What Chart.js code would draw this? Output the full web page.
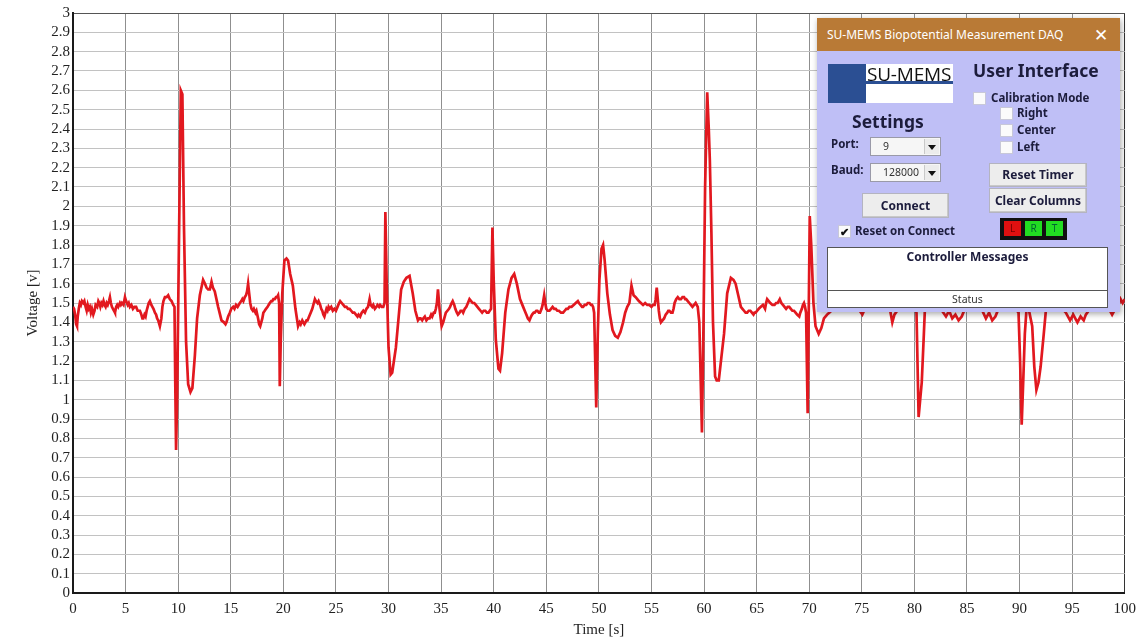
<!DOCTYPE html>
<html>
<head>
<meta charset="utf-8">
<title>SU-MEMS Biopotential Measurement</title>
<script src="https://cdn.jsdelivr.net/npm/chart.js@4"></script>
<style>
  html, body { margin: 0; padding: 0; background: #fff; }
  #wrap { position: relative; width: 1143px; height: 641px; overflow: hidden; background: #fff; }
  #plot { position: absolute; left: 0; top: 0; }

  /* acquisition control window */
  .daq { position: absolute; left: 817px; top: 18px; width: 303px; height: 294px;
         background: #bfbff6; box-shadow: 1px 2px 6px rgba(0,0,0,0.35);
         font-family: "Noto Sans", "Open Sans", sans-serif; color: #1c1c3c; }
  .daq .bar { position: absolute; left: 0; top: 0; width: 303px; height: 33px; background: #b97a36;
              color: #fff; font-size: 12px; line-height: 33px; }
  .daq .bar .ttl { position: absolute; left: 10px; top: 0; white-space: nowrap; }
  .daq .bar .x { position: absolute; left: 277px; top: 0; font-size: 17px; }
  .abs { position: absolute; white-space: nowrap; }
  .logo-blue { left: 11px; top: 46px; width: 38px; height: 39px; background: #2b4f93; }
  .logo-white { left: 49px; top: 46px; width: 87px; height: 39px; background: #fff; }
  .logo-white .txt { position: absolute; left: 1px; top: -3px; font-size: 19px; color: #111;
                     font-family: "Open Sans", sans-serif; letter-spacing: -0.2px; }
  .logo-white .rule { position: absolute; left: 0; top: 17px; width: 87px; height: 3px; background: #2b4f93; }
  .h { font-size: 17.5px; font-weight: bold; color: #1c1c3c; }
  .lbl { font-size: 11.5px; font-weight: bold; color: #1c1c3c; line-height: 14px; }
  .chk { width: 11px; height: 11px; background: #fbfbfb; border: 1px solid #c8c8d8; }
  .combo { background: #f6f6f6; border: 1px solid #9a9aa8; font-size: 10.5px; color: #333;
           font-family: "Noto Sans", sans-serif; }
  .combo .arr { position: absolute; right: 1px; top: 1px; width: 14px; bottom: 1px; background: #ececec;
                border-left: 1px solid #c9c9c9; }
  .combo .arr:after { content: ""; position: absolute; left: 3px; top: 6px; border-left: 4px solid transparent;
                      border-right: 4px solid transparent; border-top: 5px solid #111; }
  .btn { background: #ededed; border: 1px solid #b4b4c0; box-shadow: inset -1px -1px 0 #c9c9c9;
         font-size: 12px; font-weight: bold; color: #1c1c3c; text-align: center; }
  .lrt { left: 183px; top: 200px; width: 67px; height: 22px; background: #111; }
  .lrt div { position: absolute; top: 3px; width: 17px; height: 15px; font-size: 10px; text-align: center;
             line-height: 15px; font-family: "Noto Sans", sans-serif; }
  .box { background: #fff; border: 1px solid #555; }
</style>
</head>
<body>
<div id="wrap">
  <canvas id="plot" width="1143" height="641"></canvas>

  <div class="daq">
    <div class="bar"><span class="ttl">SU-MEMS Biopotential Measurement DAQ</span><span class="x">✕</span></div>

    <div class="abs logo-blue"></div>
    <div class="abs logo-white"><span class="txt">SU-MEMS</span><div class="rule"></div></div>

    <div class="abs h" style="left:156px; top:40px;">User Interface</div>
    <div class="abs chk" style="left:156px; top:74px;"></div>
    <div class="abs lbl" style="left:174px; top:73px;">Calibration Mode</div>
    <div class="abs chk" style="left:183px; top:89px;"></div>
    <div class="abs lbl" style="left:200px; top:88px;">Right</div>
    <div class="abs chk" style="left:183px; top:106px;"></div>
    <div class="abs lbl" style="left:200px; top:105px;">Center</div>
    <div class="abs chk" style="left:183px; top:123px;"></div>
    <div class="abs lbl" style="left:200px; top:122px;">Left</div>

    <div class="abs h" style="left:35px; top:91px;">Settings</div>
    <div class="abs lbl" style="left:14px; top:119px;">Port:</div>
    <div class="abs combo" style="left:53px; top:119px; width:69px; height:17px;">
      <span class="abs" style="left:12px; top:1px;">9</span><div class="arr"></div></div>
    <div class="abs lbl" style="left:14px; top:145px;">Baud:</div>
    <div class="abs combo" style="left:53px; top:145px; width:69px; height:17px;">
      <span class="abs" style="left:12px; top:1px;">128000</span><div class="arr"></div></div>
    <div class="abs btn" style="left:45px; top:175px; width:85px; height:23px; line-height:23px;">Connect</div>
    <div class="abs chk" style="left:21px; top:207px; font-size:11px; line-height:11px; text-align:center; color:#111; font-weight:bold;">✔</div>
    <div class="abs lbl" style="left:38px; top:206px;">Reset on Connect</div>

    <div class="abs btn" style="left:172px; top:145px; width:96px; height:22px; line-height:22px;">Reset Timer</div>
    <div class="abs btn" style="left:172px; top:170px; width:96px; height:23px; line-height:23px;">Clear Columns</div>
    <div class="abs lrt">
      <div style="left:4px; background:#e01010; color:#700;">L</div>
      <div style="left:25px; background:#22dd22; color:#063;">R</div>
      <div style="left:46px; background:#22dd22; color:#063;">T</div>
    </div>

    <div class="abs box" style="left:10px; top:229px; width:279px; height:42px;">
      <div class="abs lbl" style="left:0; width:279px; top:2px; text-align:center; font-size:12px;">Controller Messages</div>
    </div>
    <div class="abs box" style="left:10px; top:272px; width:279px; height:16px;">
      <div class="abs" style="left:0; width:279px; top:1px; text-align:center; font-size:10.5px; color:#333;">Status</div>
    </div>
  </div>
</div>

<script>
// Biopotential recording: sample times [s] and measured voltage [V], line for line
const timeSec = [
  0, 0.1, 0.2, 0.3, 0.38, 0.45, 0.55, 0.65, 0.75, 0.85,
  0.98, 1.08, 1.2, 1.3, 1.4, 1.5, 1.6, 1.7, 1.8, 1.93,
  2.05, 2.15, 2.3, 2.41, 2.5, 2.6, 2.7, 2.8, 2.9, 3.0,
  3.1, 3.2, 3.3, 3.42, 3.51, 3.6, 3.7, 3.8, 3.9, 3.99,
  4.1, 4.2, 4.3, 4.46, 4.55, 4.65, 4.8, 4.94, 5.05, 5.2,
  5.3, 5.41, 5.55, 5.7, 5.85, 6.0, 6.15, 6.36, 6.5, 6.6,
  6.68, 6.8, 6.9, 7.0, 7.1, 7.2, 7.31, 7.45, 7.55, 7.65,
  7.79, 7.9, 8.0, 8.1, 8.26, 8.4, 8.5, 8.6, 8.74, 8.9,
  9.05, 9.2, 9.37, 9.53, 9.65,
  9.72, 9.8, 9.9, 10.05, 10.25, 10.4, 10.55, 10.75, 10.95, 11.17, 11.35, 11.59,
  11.8, 12.06, 12.37, 12.55, 12.69, 12.85, 13.01, 13.17, 13.3, 13.48, 13.8, 14.12,
  14.35, 14.5, 14.59, 14.75, 14.91, 15.05, 15.23, 15.35, 15.5, 15.65,
  15.86, 16.0, 16.1, 16.2, 16.33, 16.45, 16.55, 16.65, 16.75, 16.85,
  16.97, 17.1, 17.2, 17.35, 17.44, 17.6, 17.7, 17.8, 17.9, 18.0,
  18.1, 18.23, 18.35, 18.5, 18.6, 18.71, 18.85, 18.95, 19.05, 19.18,
  19.3, 19.4, 19.5, 19.6,
  19.66, 19.75, 19.9, 20.1, 20.3, 20.45, 20.65, 20.9, 21.15,
  21.4, 21.55, 21.65, 21.8, 21.9, 22.0, 22.1, 22.2, 22.3, 22.45,
  22.6, 22.75, 22.9, 23.0, 23.1, 23.25, 23.35, 23.5, 23.6, 23.7,
  23.8, 23.9, 24.0, 24.1, 24.2, 24.3, 24.4, 24.55, 24.7, 24.85,
  25.0, 25.15, 25.3, 25.4, 25.55, 25.7, 25.85, 26.0, 26.15, 26.3,
  26.45, 26.6, 26.75, 26.9, 27.05, 27.15, 27.3, 27.45, 27.6, 27.75,
  27.9, 28.05, 28.2, 28.3, 28.45, 28.55, 28.7, 28.85, 28.95, 29.1,
  29.2, 29.35, 29.5, 29.62,
  29.7, 29.82, 30.0, 30.2, 30.35, 30.7, 31.0, 31.2, 31.45, 31.7, 32.0, 32.3, 32.55,
  32.8, 32.95, 33.05, 33.2, 33.3, 33.45, 33.6, 33.75, 33.9, 34.05,
  34.15, 34.3, 34.4, 34.5, 34.6, 34.7, 34.85, 35.05, 35.2, 35.3,
  35.45, 35.6, 35.75, 35.85, 36.0, 36.1, 36.25, 36.35, 36.5, 36.6,
  36.75, 36.85, 37.0, 37.1, 37.25, 37.4, 37.55, 37.7, 37.85, 38.0,
  38.15, 38.3, 38.45, 38.6, 38.75, 38.9, 39.05, 39.2, 39.35, 39.5,
  39.62, 39.75,
  39.88, 40.0, 40.2, 40.45, 40.6, 40.8, 41.1, 41.4, 41.7, 41.95, 42.2, 42.5,
  42.8, 42.95, 43.1, 43.25, 43.4, 43.55, 43.65, 43.8, 43.9, 44.05,
  44.15, 44.3, 44.4, 44.55, 44.65, 44.8, 44.9, 45.0, 45.15, 45.3,
  45.45, 45.6, 45.75, 45.9, 46.05, 46.2, 46.4, 46.6, 46.75, 46.9,
  47.05, 47.2, 47.4, 47.6, 47.8, 48.0, 48.1, 48.25, 48.4, 48.5,
  48.65, 48.8, 48.95, 49.1, 49.25, 49.35, 49.45, 49.55,
  49.75, 49.9, 50.05, 50.25, 50.4, 50.55, 50.8, 51.05, 51.3,
  51.55, 51.8, 52.05, 52.3, 52.5, 52.7, 52.9, 53.1, 53.3,
  53.5, 53.65, 53.8, 54.0, 54.2, 54.4, 54.6, 54.8, 55.0, 55.15,
  55.3, 55.4, 55.5, 55.6, 55.7, 55.8, 55.9, 56.05, 56.2, 56.35,
  56.5, 56.6, 56.7, 56.85, 57.0, 57.1, 57.2, 57.35, 57.5, 57.65,
  57.8, 57.95, 58.1, 58.2, 58.3, 58.45, 58.6, 58.75, 58.9, 59.05,
  59.2, 59.3, 59.4,
  59.55, 59.8, 59.95, 60.1, 60.3, 60.45, 60.55, 60.7, 60.85, 61.05,
  61.2, 61.4, 61.65, 61.9, 62.2, 62.55, 62.8, 63.0, 63.25,
  63.5, 63.65, 63.8, 63.95, 64.1, 64.25, 64.4, 64.55, 64.7, 64.8,
  64.9, 65.05, 65.2, 65.4, 65.6, 65.7, 65.8, 65.9, 66.0, 66.15,
  66.3, 66.5, 66.7, 66.85, 67.0, 67.1, 67.2, 67.35, 67.5, 67.65,
  67.8, 67.95, 68.1, 68.25, 68.4, 68.55, 68.7, 68.85, 69.05, 69.15,
  69.3, 69.4, 69.5, 69.6, 69.7,
  69.85, 70.05, 70.2, 70.4, 70.6, 70.9, 71.15, 71.4, 71.7, 71.9,
  72.3, 72.8, 73.3, 73.8, 74.3, 74.8, 75.05, 75.3, 75.8, 76.3,
  76.8, 77.3, 77.7, 77.9, 78.1, 78.5, 79.0, 79.5, 80.0, 80.2,
  80.4, 80.55, 80.7, 80.9, 81.1, 81.3, 81.6, 82.0, 82.5, 83.0,
  83.3, 83.6, 83.9, 84.2, 84.5, 84.8, 85.3, 85.8, 86.3, 86.8,
  87.1, 87.4, 87.7, 88.0, 88.5, 89.0, 89.5, 89.9, 90.05, 90.2,
  90.35, 90.5, 90.7, 90.9, 91.2, 91.4, 91.6, 91.8, 92.0, 92.3,
  92.5, 92.9, 93.4, 93.9, 94.4, 94.8, 95.1, 95.5, 95.8, 96.1,
  96.3, 96.7, 97.2, 97.7, 98.2, 98.6, 98.8, 99.1, 99.4, 99.6,
  99.8, 100
];
const voltage = [
  1.48, 1.47, 1.44, 1.39, 1.38, 1.43, 1.47, 1.50, 1.49, 1.51,
  1.50, 1.51, 1.48, 1.46, 1.49, 1.47, 1.48, 1.45, 1.47, 1.44,
  1.46, 1.49, 1.48, 1.51, 1.50, 1.48, 1.50, 1.49, 1.51, 1.49,
  1.48, 1.50, 1.49, 1.51, 1.53, 1.50, 1.48, 1.47, 1.46, 1.45,
  1.48, 1.49, 1.48, 1.50, 1.49, 1.50, 1.49, 1.53, 1.51, 1.49,
  1.50, 1.48, 1.49, 1.47, 1.48, 1.48, 1.46, 1.46, 1.44, 1.42,
  1.42, 1.44, 1.43, 1.46, 1.48, 1.50, 1.51, 1.49, 1.48, 1.47,
  1.45, 1.44, 1.42, 1.41, 1.38, 1.42, 1.48, 1.51, 1.53, 1.53,
  1.54, 1.52, 1.51, 1.49, 1.48,
  1.10, 0.74, 1.00, 1.70, 2.60, 2.58, 1.90, 1.30, 1.08, 1.04, 1.06, 1.23,
  1.42, 1.54, 1.62, 1.60, 1.58, 1.57, 1.57, 1.61, 1.58, 1.56, 1.48, 1.41,
  1.40, 1.39, 1.40, 1.43, 1.45, 1.47, 1.48, 1.47, 1.49, 1.48,
  1.50, 1.51, 1.52, 1.51, 1.53, 1.54, 1.56, 1.60, 1.55, 1.50,
  1.47, 1.46, 1.47, 1.45, 1.46, 1.42, 1.39, 1.38, 1.40, 1.42,
  1.45, 1.46, 1.47, 1.48, 1.49, 1.50, 1.51, 1.51, 1.52, 1.52,
  1.53, 1.53, 1.54, 1.50,
  1.07, 1.30, 1.55, 1.72, 1.73, 1.72, 1.65, 1.59, 1.47,
  1.38, 1.40, 1.39, 1.41, 1.40, 1.39, 1.40, 1.41, 1.41, 1.43,
  1.45, 1.47, 1.50, 1.52, 1.51, 1.50, 1.51, 1.49, 1.47, 1.46,
  1.44, 1.43, 1.45, 1.47, 1.46, 1.48, 1.47, 1.48, 1.46, 1.47,
  1.46, 1.48, 1.50, 1.51, 1.50, 1.49, 1.48, 1.48, 1.47, 1.47,
  1.46, 1.45, 1.45, 1.44, 1.43, 1.44, 1.43, 1.45, 1.46, 1.45,
  1.47, 1.48, 1.52, 1.49, 1.48, 1.49, 1.47, 1.48, 1.49, 1.48,
  1.49, 1.48, 1.48, 1.50,
  1.97, 1.62, 1.27, 1.13, 1.14, 1.27, 1.45, 1.57, 1.61, 1.63, 1.64, 1.55, 1.46,
  1.41, 1.42, 1.42, 1.41, 1.42, 1.43, 1.41, 1.42, 1.42, 1.44,
  1.43, 1.45, 1.45, 1.47, 1.50, 1.57, 1.47, 1.38, 1.40, 1.42,
  1.45, 1.46, 1.47, 1.48, 1.50, 1.51, 1.49, 1.47, 1.45, 1.44,
  1.45, 1.46, 1.46, 1.45, 1.47, 1.48, 1.50, 1.52, 1.51, 1.50,
  1.50, 1.49, 1.48, 1.47, 1.46, 1.45, 1.46, 1.46, 1.45, 1.45,
  1.46, 1.47,
  1.89, 1.62, 1.31, 1.16, 1.15, 1.24, 1.45, 1.57, 1.63, 1.65, 1.60, 1.52,
  1.48, 1.46, 1.44, 1.42, 1.41, 1.43, 1.44, 1.45, 1.45, 1.46,
  1.46, 1.45, 1.45, 1.47, 1.49, 1.54, 1.50, 1.47, 1.46, 1.46,
  1.47, 1.48, 1.47, 1.47, 1.46, 1.46, 1.45, 1.45, 1.46, 1.47,
  1.47, 1.48, 1.48, 1.49, 1.50, 1.51, 1.50, 1.49, 1.48, 1.48,
  1.49, 1.49, 1.50, 1.50, 1.49, 1.49, 1.48, 1.45,
  0.96, 1.35, 1.62, 1.78, 1.80, 1.72, 1.55, 1.44, 1.36,
  1.33, 1.32, 1.35, 1.40, 1.45, 1.48, 1.50, 1.59, 1.54,
  1.53, 1.52, 1.51, 1.50, 1.49, 1.50, 1.49, 1.49, 1.48, 1.49,
  1.49, 1.52, 1.58, 1.52, 1.46, 1.42, 1.40, 1.41, 1.42, 1.44,
  1.45, 1.46, 1.46, 1.45, 1.45, 1.47, 1.50, 1.52, 1.53, 1.52,
  1.52, 1.53, 1.53, 1.52, 1.52, 1.51, 1.50, 1.49, 1.48, 1.49,
  1.50, 1.49, 1.48,
  1.40, 0.83, 1.40, 2.10, 2.59, 2.40, 2.24, 1.86, 1.40, 1.12,
  1.10, 1.10, 1.22, 1.34, 1.55, 1.63, 1.62, 1.60, 1.54,
  1.48, 1.47, 1.46, 1.45, 1.45, 1.46, 1.46, 1.45, 1.44, 1.45,
  1.45, 1.46, 1.47, 1.48, 1.49, 1.48, 1.47, 1.50, 1.52, 1.51,
  1.50, 1.49, 1.49, 1.50, 1.50, 1.51, 1.52, 1.50, 1.49, 1.48,
  1.47, 1.48, 1.48, 1.47, 1.46, 1.46, 1.45, 1.44, 1.43, 1.45,
  1.47, 1.49, 1.50, 1.48, 1.45,
  0.93, 1.95, 1.79, 1.50, 1.38, 1.34, 1.37, 1.42, 1.44, 1.45,
  1.47, 1.48, 1.47, 1.49, 1.47, 1.46, 1.44, 1.47, 1.49, 1.48,
  1.47, 1.48, 1.46, 1.40, 1.44, 1.47, 1.48, 1.47, 1.48, 1.45,
  0.91, 1.00, 1.09, 1.34, 1.60, 1.70, 1.55, 1.48, 1.47, 1.43,
  1.46, 1.42, 1.44, 1.41, 1.43, 1.47, 1.48, 1.47, 1.48, 1.42,
  1.45, 1.41, 1.43, 1.47, 1.48, 1.47, 1.48, 1.45, 1.20, 0.87,
  1.10, 1.34, 1.50, 1.46, 1.38, 1.17, 1.05, 1.09, 1.17, 1.34,
  1.46, 1.48, 1.47, 1.48, 1.45, 1.41, 1.44, 1.40, 1.43, 1.41,
  1.44, 1.47, 1.48, 1.47, 1.48, 1.46, 1.44, 1.47, 1.49, 1.52,
  1.50, 1.52
];

// Axis ranges and steps
const timeRange = [0, 100];
const timeStep = 5;
const voltRange = [0, 3];
const voltStep = 0.1;

const serif = '"Liberation Serif", "Times New Roman", serif';

new Chart(document.getElementById('plot'), {
  type: 'line',
  data: {
    datasets: [{
      label: 'Voltage',
      data: timeSec.map((t, i) => ({ x: t, y: voltage[i] })),
      borderColor: '#e2181f',
      borderWidth: 2.7,
      pointRadius: 0,
      tension: 0,
      fill: false
    }]
  },
  options: {
    responsive: false,
    animation: false,
    devicePixelRatio: 1,
    layout: { padding: { top: 13, right: 17, left: 0, bottom: 0 } },
    plugins: { legend: { display: false }, tooltip: { enabled: false } },
    scales: {
      x: {
        type: 'linear',
        min: timeRange[0], max: timeRange[1],
        ticks: { stepSize: timeStep, padding: 7, color: '#222', font: { family: serif, size: 15 }, maxRotation: 0 },
        grid: { drawTicks: false, lineWidth: 1,
                color: ctx => ctx.tick && ctx.tick.value === timeRange[1] ? '#333' : '#8f8f8f' },
        border: { color: '#1a1a1a', width: 2 },
        title: { display: true, text: 'Time [s]', color: '#222', font: { family: serif, size: 15 },
                 padding: { top: 0, bottom: 2 } },
        afterFit: s => { s.height = 48; }
      },
      y: {
        min: voltRange[0], max: voltRange[1],
        ticks: { stepSize: voltStep, autoSkip: false, padding: 3, color: '#222',
                 font: { family: serif, size: 15 },
                 callback: v => String(Math.round(v * 10) / 10) },
        grid: { drawTicks: false, lineWidth: 1,
                color: ctx => ctx.tick && Math.abs(ctx.tick.value - voltRange[1]) < 1e-9 ? '#555' : '#c2c2c2' },
        border: { color: '#1a1a1a', width: 2 },
        title: { display: true, text: 'Voltage [v]', color: '#222', font: { family: serif, size: 15 },
                 padding: { top: 24, bottom: 0 } },
        afterFit: s => { s.width = 73; }
      }
    }
  }
});
</script>
</body>
</html>
